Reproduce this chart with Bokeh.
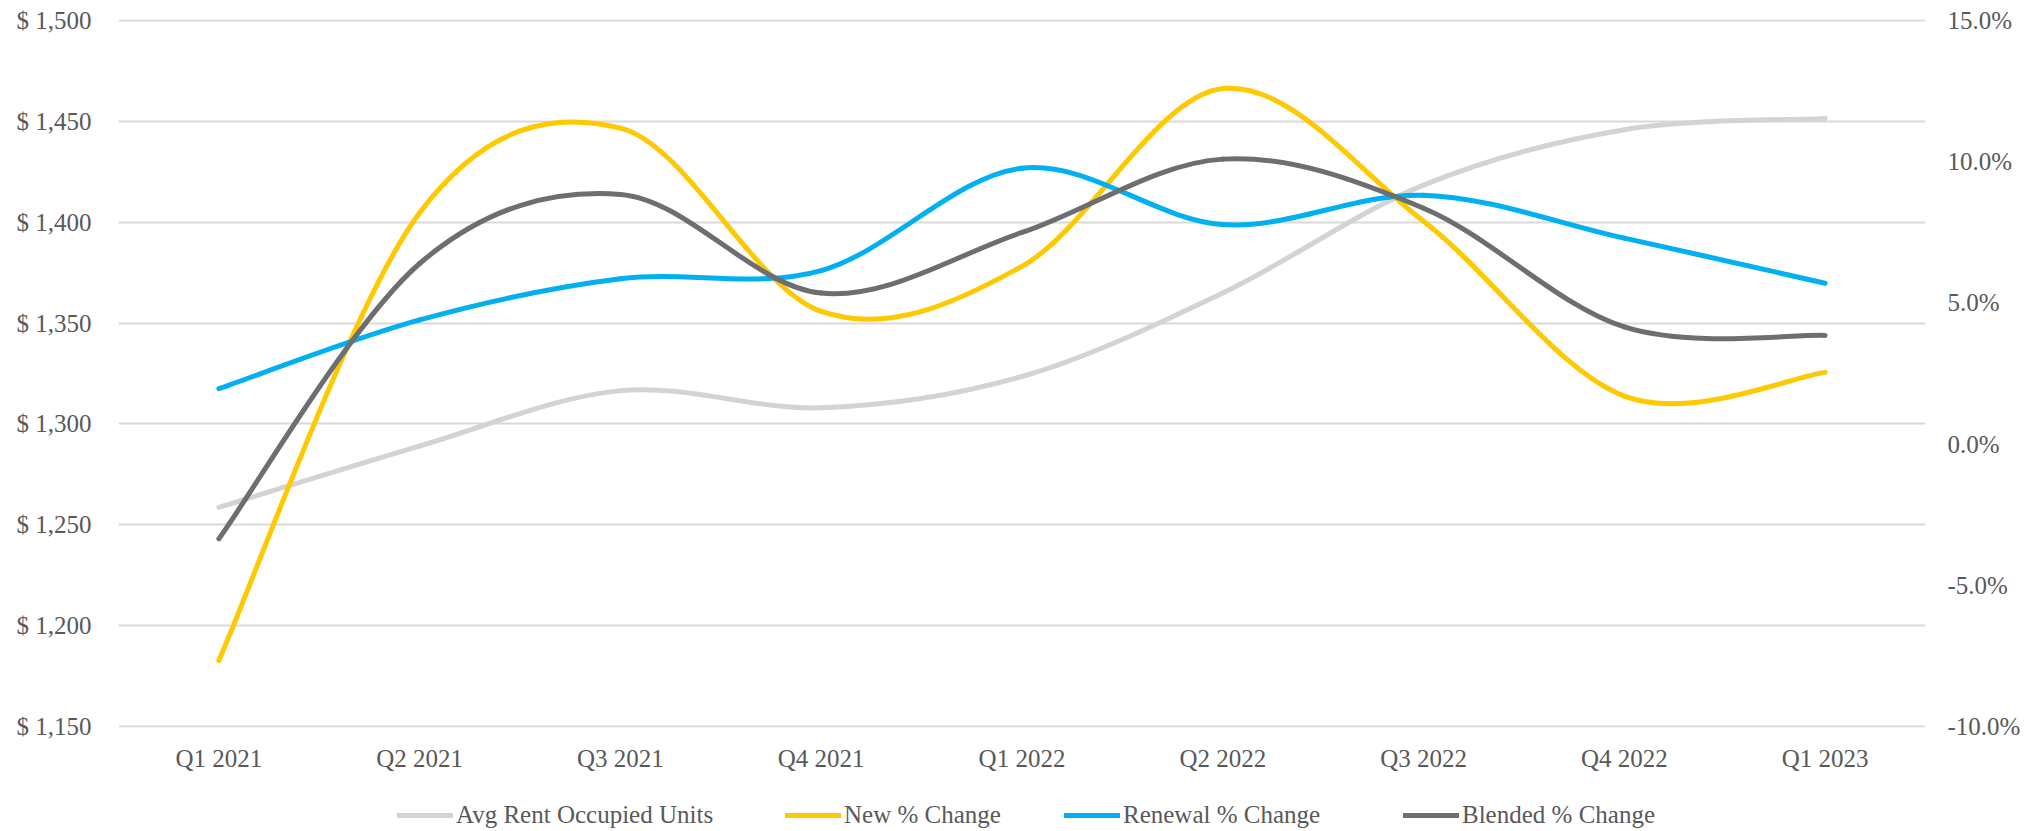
from bokeh.plotting import figure
from bokeh.layouts import column
from bokeh.models import (Range1d, LinearAxis, FixedTicker, Legend, LegendItem)
from bokeh.embed import file_html
from bokeh.resources import INLINE

# ---------------- data ----------------
quarters = ["Q1 2021", "Q2 2021", "Q3 2021", "Q4 2021", "Q1 2022",
            "Q2 2022", "Q3 2022", "Q4 2022", "Q1 2023"]
avg_rent = [1258.6, 1289.0, 1316.5, 1308.0, 1323.5, 1365.0, 1418.5, 1446.0, 1451.6]
new_pct = [-7.67, 8.2, 11.2, 4.7, 6.3, 12.6, 7.9, 1.7, 2.54]
renewal_pct = [1.96, 4.4, 5.86, 6.15, 9.78, 7.78, 8.82, 7.3, 5.70]
blended_pct = [-3.36, 6.4, 8.85, 5.35, 7.5, 10.1, 8.36, 4.15, 3.85]

left_ticks = [1150, 1200, 1250, 1300, 1350, 1400, 1450, 1500]
left_labels = ["$ 1,150", "$ 1,200", "$ 1,250", "$ 1,300", "$ 1,350",
               "$ 1,400", "$ 1,450", "$ 1,500"]
right_ticks = [-10, -5, 0, 5, 10, 15]
right_labels = ["-10.0%", "-5.0%", "0.0%", "5.0%", "10.0%", "15.0%"]

series_names = ["Avg Rent Occupied Units", "New % Change",
                "Renewal % Change", "Blended % Change"]
series_colors = ["#D3D3D3", "#FFC900", "#00B0F0", "#6D6E71"]

FONT = "Liberation Serif"
FSIZE = "25px"
TXT = "#595959"

W = 2039
BL, BR = 118, 114          # left / right borders (frame from x=118 to x=1925)

lpad = (left_ticks[-1] - left_ticks[0]) * 0.002
rpad = (right_ticks[-1] - right_ticks[0]) * 0.002

# ---------------- main figure ----------------
p = figure(width=W, height=777, output_backend="svg", toolbar_location=None,
           x_range=Range1d(-0.5, len(quarters) - 0.5),
           y_range=Range1d(left_ticks[0] - lpad, left_ticks[-1] + lpad),
           min_border_left=BL, min_border_right=BR,
           min_border_top=19, min_border_bottom=50)
p.extra_y_ranges = {"pct": Range1d(right_ticks[0] - rpad, right_ticks[-1] + rpad)}
p.outline_line_color = None
p.background_fill_color = "white"
p.border_fill_color = "white"

xa = p.xaxis[0]
xa.ticker = FixedTicker(ticks=list(range(len(quarters))))
xa.major_label_overrides = {i: q for i, q in enumerate(quarters)}

ya = p.yaxis[0]
ya.ticker = FixedTicker(ticks=left_ticks)
ya.major_label_overrides = {t: l for t, l in zip(left_ticks, left_labels)}

ra = LinearAxis(y_range_name="pct",
                ticker=FixedTicker(ticks=right_ticks),
                major_label_overrides={t: l for t, l in zip(right_ticks, right_labels)})
p.add_layout(ra, "right")

for ax, standoff in ((xa, 17), (ya, 27), (ra, 22)):
    ax.axis_line_color = None
    ax.major_tick_line_color = None
    ax.minor_tick_line_color = None
    ax.major_tick_out = 0
    ax.major_tick_in = 0
    ax.major_label_standoff = standoff
    ax.major_label_text_font = FONT
    ax.major_label_text_font_size = FSIZE
    ax.major_label_text_color = TXT

p.xgrid.grid_line_color = None
p.ygrid.grid_line_color = "#D9D9D9"
p.ygrid.grid_line_width = 2
p.ygrid.ticker = FixedTicker(ticks=left_ticks)


# ---------------- smoothed lines (Excel-style Catmull-Rom beziers) ----------------
def bezier_source(ys):
    n = len(ys)
    xs = list(range(n))
    d = dict(x0=[], y0=[], x1=[], y1=[], cx0=[], cy0=[], cx1=[], cy1=[])
    for i in range(n - 1):
        i0 = max(i - 1, 0)
        i3 = min(i + 2, n - 1)
        d["x0"].append(xs[i]); d["y0"].append(ys[i])
        d["x1"].append(xs[i + 1]); d["y1"].append(ys[i + 1])
        d["cx0"].append(xs[i] + (xs[i + 1] - xs[i0]) / 6.0)
        d["cy0"].append(ys[i] + (ys[i + 1] - ys[i0]) / 6.0)
        d["cx1"].append(xs[i + 1] - (xs[i3] - xs[i]) / 6.0)
        d["cy1"].append(ys[i + 1] - (ys[i3] - ys[i]) / 6.0)
    return d


all_series = [avg_rent, new_pct, renewal_pct, blended_pct]
for k, (ys, col) in enumerate(zip(all_series, series_colors)):
    kw = {} if k == 0 else {"y_range_name": "pct"}
    p.bezier(x0="x0", y0="y0", x1="x1", y1="y1", cx0="cx0", cy0="cy0",
             cx1="cx1", cy1="cy1", source=bezier_source(ys),
             line_color=col, line_width=5, line_cap="round", **kw)

# ---------------- legend strip ----------------
leg = figure(width=W, height=54, output_backend="svg", toolbar_location=None,
             x_range=Range1d(0, 1), y_range=Range1d(0, 1),
             x_axis_location=None, y_axis_location=None,
             min_border_left=BL, min_border_right=BR,
             min_border_top=0, min_border_bottom=0)
leg.outline_line_color = None
leg.xgrid.visible = False
leg.ygrid.visible = False
leg.background_fill_color = "white"
leg.border_fill_color = "white"

legend_x = [279, 667, 946, 1285]   # offsets from the frame's left edge
for name, col, lx in zip(series_names, series_colors, legend_x):
    # swatch renderer kept outside the visible range; only its legend glyph shows
    r = leg.line(x=[5, 6], y=[5, 5], line_color=col, line_width=5, line_cap="round")
    lg = Legend(items=[LegendItem(label=name, renderers=[r])],
                location=(lx, 2), orientation="horizontal",
                glyph_width=56, glyph_height=20, label_standoff=3,
                label_height=20, padding=0, margin=0, spacing=0,
                border_line_color=None, background_fill_alpha=0,
                label_text_font=FONT, label_text_font_size=FSIZE,
                label_text_color=TXT)
    leg.add_layout(lg, "center")

layout = column(p, leg, spacing=0)
open("out.html", "w").write(file_html(layout, INLINE))
